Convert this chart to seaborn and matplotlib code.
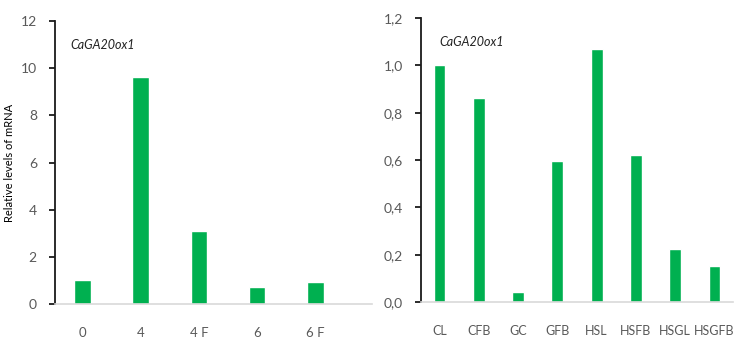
import pandas as pd
import seaborn as sns
import matplotlib.pyplot as plt
from matplotlib.ticker import FuncFormatter

# left panel: time points
left_labels = ["0", "4", "4 F", "6", "6 F"]
left_values = [1.0, 9.62, 3.1, 0.73, 0.93]

# right panel: treatments
right_labels = ["CL", "CFB", "GC", "GFB", "HSL", "HSFB", "HSGL", "HSGFB"]
right_values = [1.0, 0.864, 0.042, 0.596, 1.07, 0.623, 0.222, 0.151]

gene = "CaGA20ox1"
bar_color = "#00B050"
text_grey = "#595959"

sns.set_style("white")
plt.rcParams['font.family'] = ['Lato', 'DejaVu Sans']

fig = plt.figure(figsize=(7.52, 3.53), dpi=100)
ax1 = fig.add_axes([0.0731, 0.1388, 0.4216, 0.8017])
ax2 = fig.add_axes([0.5598, 0.1445, 0.4149, 0.8045])

left_df = pd.DataFrame({"cond": left_labels, "val": left_values})
right_df = pd.DataFrame({"cond": right_labels, "val": right_values})

sns.barplot(data=left_df, x="cond", y="val", color=bar_color, width=0.29,
            saturation=1, ax=ax1)
sns.barplot(data=right_df, x="cond", y="val", color=bar_color, width=0.3,
            saturation=1, ax=ax2)

ax1.set_ylim(0, 12)
ax1.set_yticks(range(0, 13, 2))
ax1.set_xlim(-0.48, 4.98)
ax2.set_ylim(0, 1.2)
ax2.set_yticks([0, 0.2, 0.4, 0.6, 0.8, 1.0, 1.2])
ax2.yaxis.set_major_formatter(FuncFormatter(lambda v, p: f"{v:.1f}".replace(".", ",")))
ax2.set_xlim(-0.47, 7.47)

for ax, xsize in ((ax1, 9.5), (ax2, 9)):
    ax.set_xlabel("")
    ax.set_ylabel("")
    ax.spines["top"].set_visible(False)
    ax.spines["right"].set_visible(False)
    ax.spines["bottom"].set_color("#d9d9d9")
    ax.spines["bottom"].set_linewidth(1.2)
    ax.spines["left"].set_color("#1a1a1a")
    ax.spines["left"].set_linewidth(1.3)
    ax.tick_params(axis="y", left=True, length=4, width=1.3, color="#1a1a1a",
                   labelsize=10, labelcolor=text_grey, pad=9)
    ax.tick_params(axis="x", bottom=False, labelsize=xsize, labelcolor=text_grey, pad=13)
    ax.text(0.05, 0.915, gene, transform=ax.transAxes, style="italic",
            fontsize=9, color="#222222", va="center")
ax2.texts[-1].set_position((0.06, 0.915))

ax1.set_ylabel("Relative levels of mRNA", fontsize=8, color="black")
ax1.yaxis.set_label_coords(-0.126, 0.5)

fig.savefig("out.png", dpi=100)
